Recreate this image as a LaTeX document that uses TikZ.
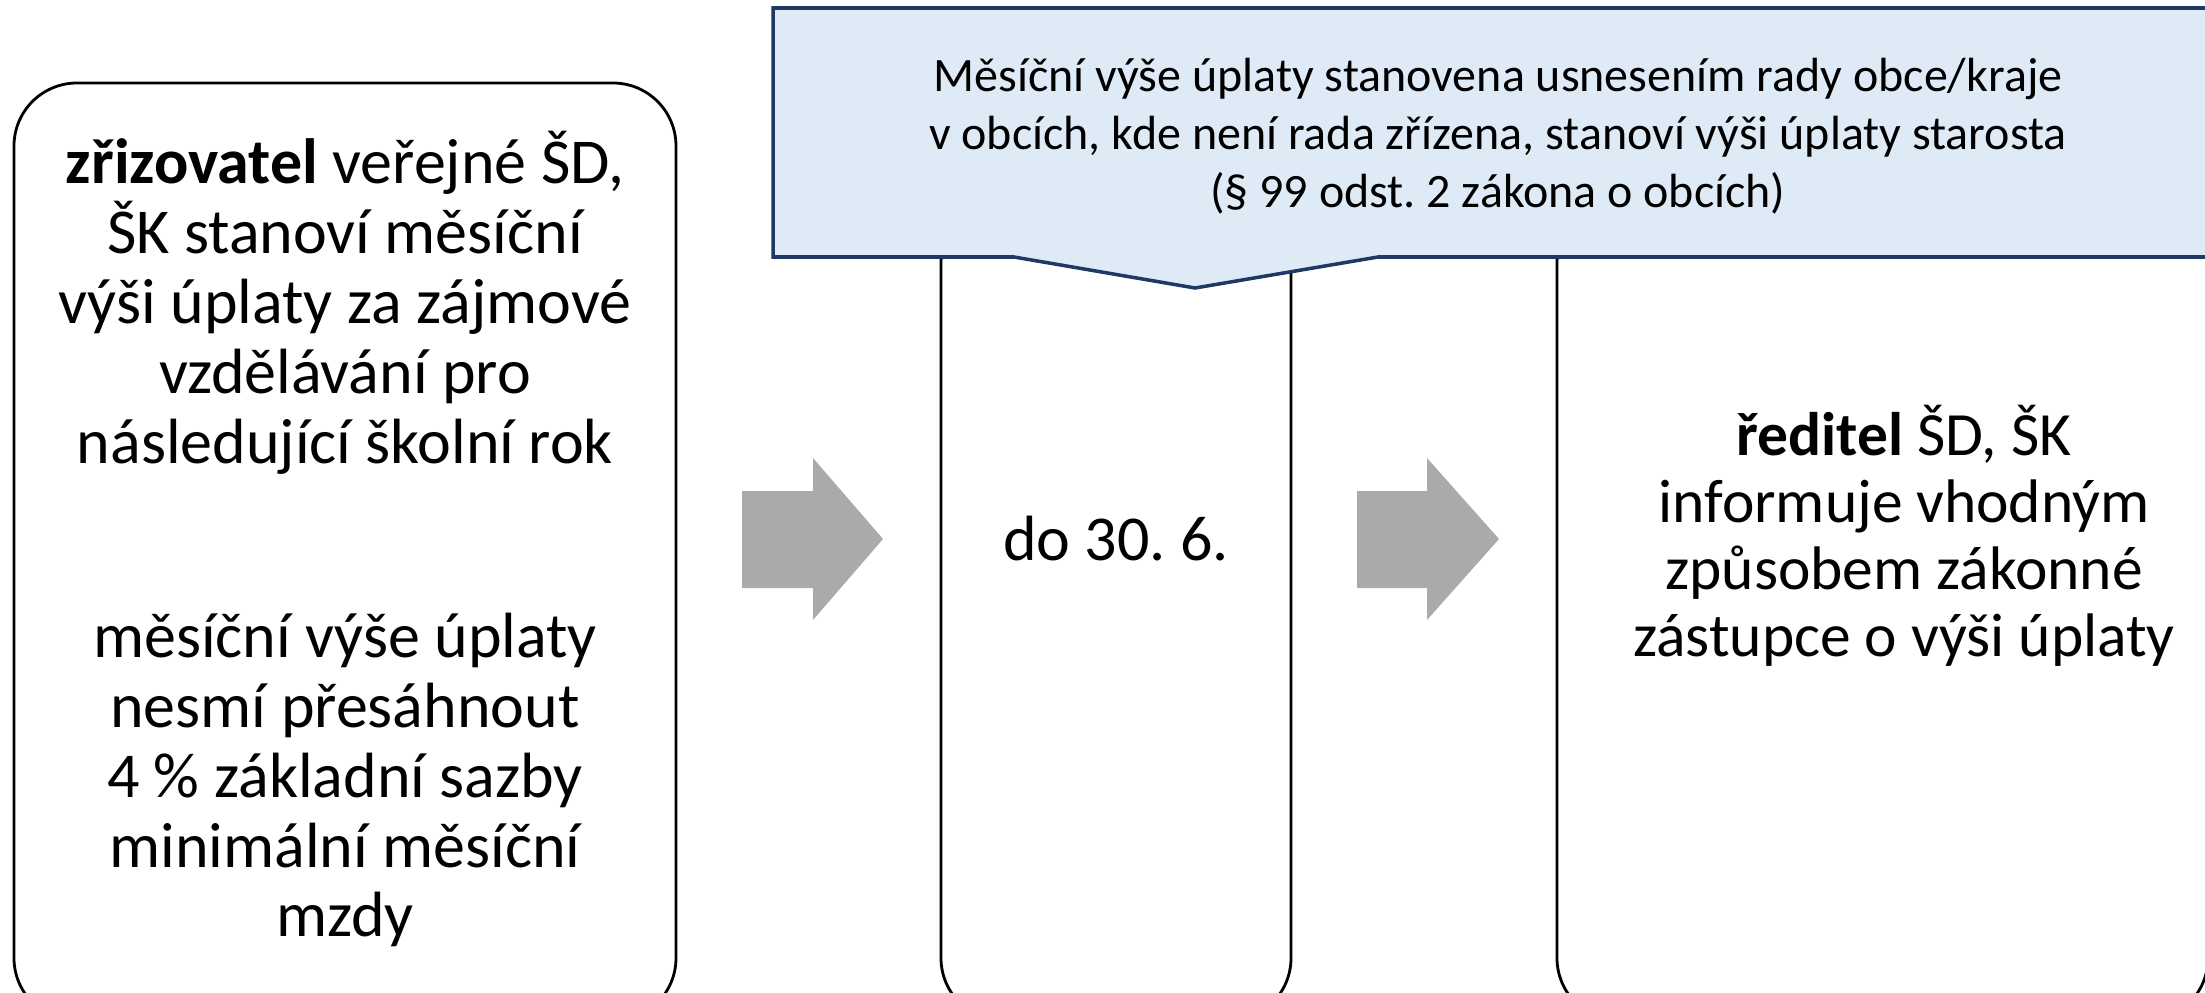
\documentclass[tikz,border=0pt]{standalone}
\usepackage{fontspec}
\setmainfont{Carlito}
\frenchspacing
\definecolor{noteblue}{RGB}{222,235,247}
\definecolor{notenavy}{RGB}{32,56,100}
\definecolor{arrowgray}{RGB}{170,170,170}
\tikzset{
  box/.style={draw,line width=0.8pt,rounded corners=0.63cm,inner sep=0pt},
  bigtext/.style={align=center,inner sep=0pt,font=\fontsize{18.2}{19.9}\selectfont},
  notetext/.style={align=center,inner sep=0pt,font=\fontsize{13.65}{16.5}\selectfont},
}
\begin{document}
\begin{tikzpicture}
        \useasboundingbox (0,0) rectangle (22.05,-9.93);
        \clip (0,0) rectangle (22.05,-9.93);
        %% Boxes
        \node[box,minimum width=6.62cm,minimum height=9.38cm] (L) at (3.45,-5.52) {};
        \node[box,minimum width=3.50cm,minimum height=8.21cm] (M) at (11.16,-6.105) {};
        \node[box,minimum width=6.51cm,minimum height=8.21cm] (R) at (18.825,-6.105) {};
        %% Texts
        \node[bigtext] (Ltop) at (3.45,-3.03) {\textbf{zřizovatel} veřejné ŠD,\\ŠK stanoví měsíční\\výši úplaty za zájmové\\vzdělávání pro\\následující školní rok};
        \node[bigtext] (Lbot) at (3.45,-7.80) {měsíční výše úplaty\\nesmí přesáhnout\\4 \% základní sazby\\minimální měsíční\\mzdy};
        \node[bigtext] (Mtext) at (11.16,-5.39) {do 30. 6.};
        \node[bigtext,font=\fontsize{17.5}{19.1}\selectfont] (Rtext) at (19.04,-5.36) {\textbf{ředitel} ŠD, ŠK\\informuje vhodným\\způsobem zákonné\\zástupce o výši úplaty};
        %% Arrows
        \fill[arrowgray] (7.42,-4.91) -- (8.13,-4.91) -- (8.13,-4.58) -- (8.83,-5.39)
            -- (8.13,-6.20) -- (8.13,-5.88) -- (7.42,-5.88) -- cycle;
        \fill[arrowgray] (13.57,-4.91) -- (14.27,-4.91) -- (14.27,-4.58) -- (14.99,-5.39)
            -- (14.27,-6.20) -- (14.27,-5.88) -- (13.57,-5.88) -- cycle;
        %% Callout
        \draw[fill=noteblue,draw=notenavy,line width=1pt] (7.73,-0.08) -- (22.3,-0.08) -- (22.3,-2.57)
            -- (13.78,-2.57) -- (11.95,-2.88) -- (10.14,-2.57) -- (7.73,-2.57) -- cycle;
        \node[notetext] (note) at (14.98,-1.36) {Měsíční výše úplaty stanovena usnesením rady obce/kraje\\v obcích, kde není rada zřízena, stanoví výši úplaty starosta\\(§ 99 odst. 2 zákona o obcích)};
\end{tikzpicture}
\end{document}
